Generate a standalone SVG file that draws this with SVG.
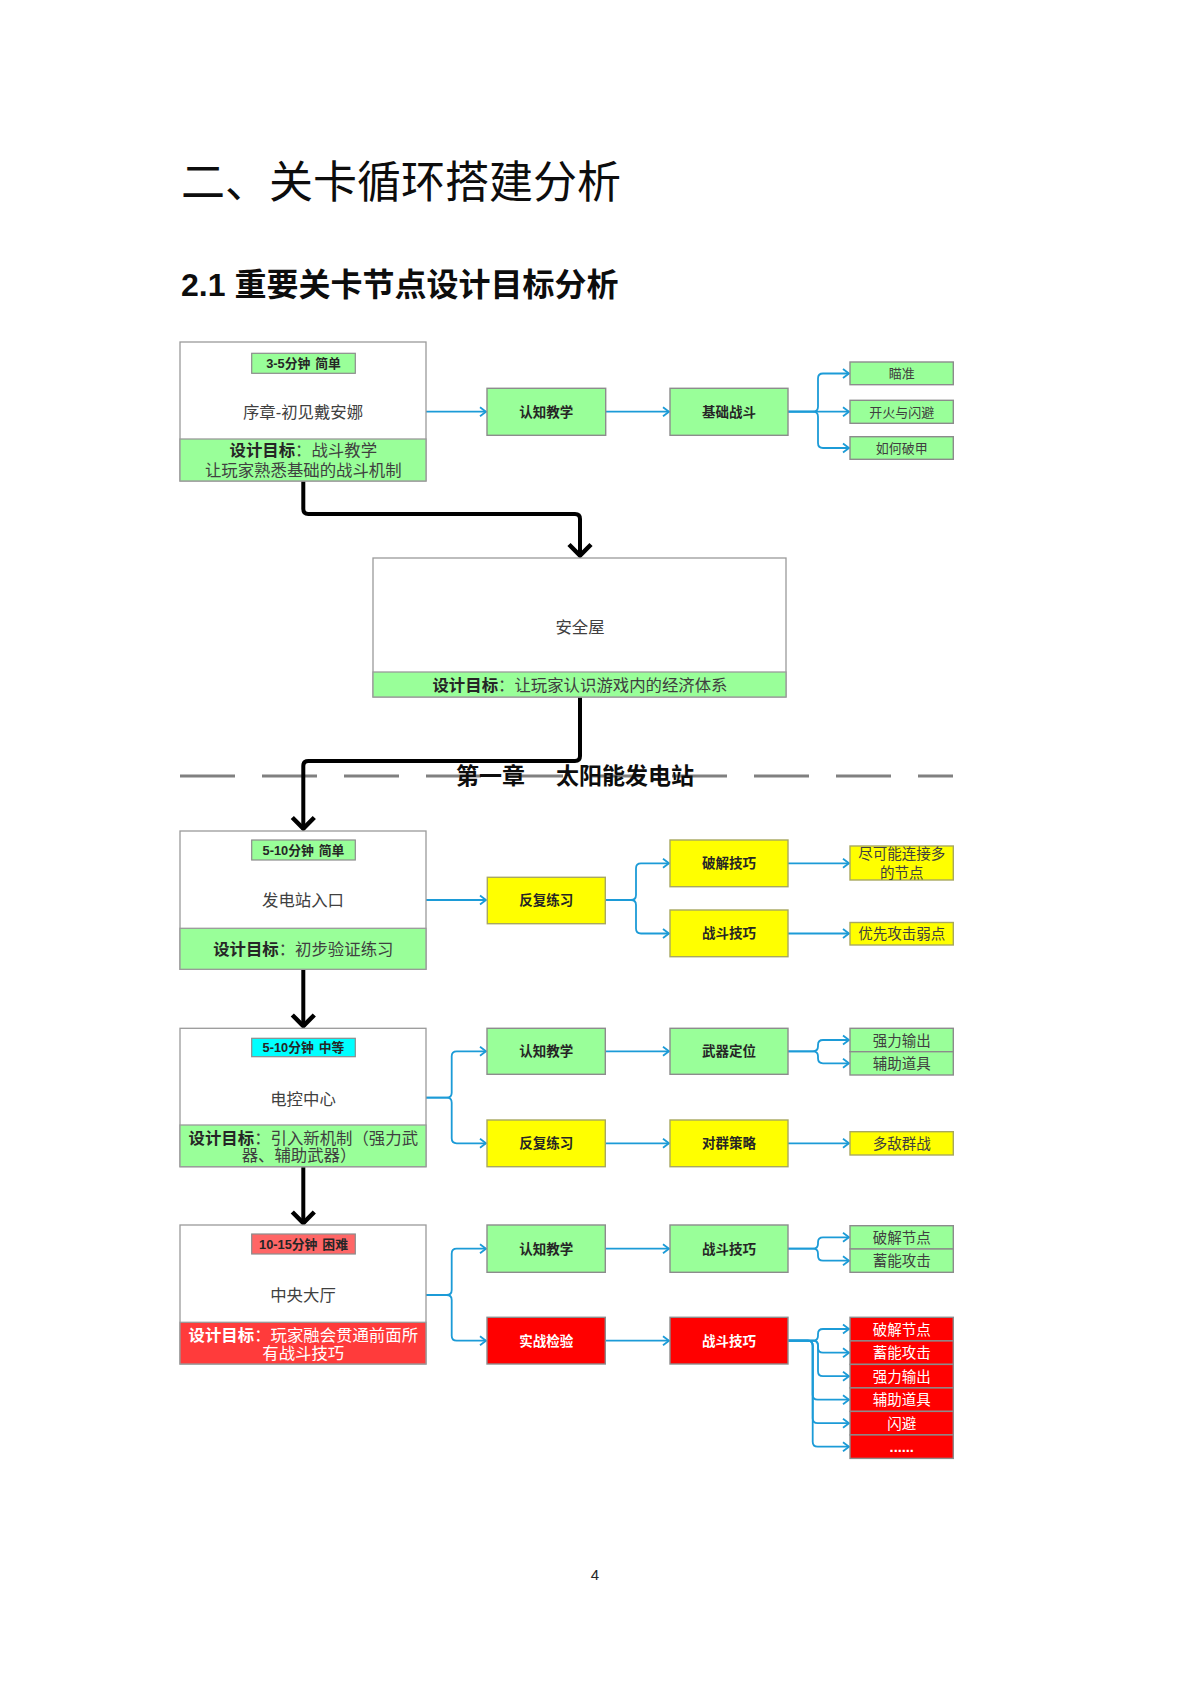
<svg xmlns="http://www.w3.org/2000/svg" width="1191" height="1684" viewBox="0 0 1191 1684">
<style>
text{font-family:"Liberation Sans","Noto Sans CJK SC",sans-serif}
.h1{font-family:"Noto Sans CJK SC",sans-serif;font-size:44px;fill:#0d0d0d}
.h2{font-size:32px;font-weight:bold;fill:#0d0d0d}
.chap{font-size:23px;font-weight:bold;fill:#0d0d0d}
.node{fill:#fff;stroke:#9a9a9a;stroke-width:1.3}
.band{fill:#99ff99;stroke:#9a9a9a;stroke-width:1.3}
.bandr{fill:#ff3b3b;stroke:#9a9a9a;stroke-width:1.3}
.g{fill:#99ff99;stroke:#8c8c8c;stroke-width:1.4}
.y{fill:#ffff00;stroke:#a8a860;stroke-width:1.4}
.r{fill:#ff0000;stroke:#8c8c8c;stroke-width:1.4}
.tagg{fill:#99ff99;stroke:#8c8c8c;stroke-width:1.2}
.tagc{fill:#00ffff;stroke:#8c8c8c;stroke-width:1.2}
.tagr{fill:#ff6666;stroke:#8c8c8c;stroke-width:1.2}
.tt{font-size:12.8px;font-weight:bold;fill:#262626;text-anchor:middle}
.nt{font-size:16.4px;fill:#404040;text-anchor:middle}
.gt{font-size:16.4px;fill:#404040;text-anchor:middle}
.gtw{font-size:16.4px;fill:#ffffff;text-anchor:middle}
.b{font-weight:bold;fill:#262626}
.bw{font-weight:bold;fill:#ffffff}
.at{font-size:13.5px;font-weight:bold;fill:#262626;text-anchor:middle}
.atw{font-size:13.5px;font-weight:bold;fill:#ffffff;text-anchor:middle}
.st{font-size:14.5px;fill:#404040;text-anchor:middle}
.st1{font-size:13px;fill:#404040;text-anchor:middle}
.stw{font-size:14.5px;fill:#ffffff;text-anchor:middle}
.blue{fill:none;stroke:#1c9bd7;stroke-width:1.8;marker-end:url(#ba)}
.blk{fill:none;stroke:#000;stroke-width:4;marker-end:url(#ka)}
</style>
<defs>
<marker id="ba" markerUnits="userSpaceOnUse" markerWidth="20" markerHeight="20" viewBox="-10 -10 20 20" refX="0" refY="0" orient="auto" overflow="visible">
<path d="M-6,-4.5 L0,0 L-6,4.5" fill="none" stroke="#1c9bd7" stroke-width="1.8"/>
</marker>
<marker id="ka" markerUnits="userSpaceOnUse" markerWidth="30" markerHeight="30" viewBox="-15 -15 30 30" refX="0" refY="0" orient="auto" overflow="visible">
<path d="M-12,-11 L-1,0 L-12,11" fill="none" stroke="#000" stroke-width="4.5" stroke-linejoin="miter"/>
</marker>
</defs>
<rect width="1191" height="1684" fill="#fff"/>

<text class="h1" x="181" y="198">二、关卡循环搭建分析</text>
<text class="h2" x="181" y="295.5">2.1 重要关卡节点设计目标分析</text>

<g id="chapter-divider">
<line x1="180" y1="776" x2="953" y2="776" stroke="#808080" stroke-width="3" stroke-dasharray="55 27"/>
<text class="chap" y="783.5"><tspan x="456">第一章</tspan><tspan x="556">太阳能发电站</tspan></text>
</g>

<g id="connectors">
<path class="blk" d="M303.3,481 V509 Q303.3,514 308.3,514 H575 Q580,514 580,519 V556.5"/>
<path class="blk" d="M580,697 V756 Q580,761 575,761 H308.3 Q303.3,761 303.3,766 V829.5"/>
<path class="blk" d="M303.3,969.3 V1027"/>
<path class="blk" d="M303.3,1166.7 V1224"/>
<!-- row 1 -->
<path class="blue" d="M426,411.7 H486"/>
<path class="blue" d="M606,411.7 H669"/>
<path class="blue" d="M788,411.7 H813 Q818,411.7 818,406.7 V378.5 Q818,373.5 823,373.5 H849"/>
<path class="blue" d="M788,411.7 H849"/>
<path class="blue" d="M788,411.7 H813 Q818,411.7 818,416.7 V443 Q818,448 823,448 H849"/>
<!-- row 2 -->
<path class="blue" d="M426,900 H486"/>
<path class="blue" d="M605,900 H631 Q636,900 636,895 V868.3 Q636,863.3 641,863.3 H669"/>
<path class="blue" d="M605,900 H631 Q636,900 636,905 V928.5 Q636,933.5 641,933.5 H669"/>
<path class="blue" d="M788,863.3 H849"/>
<path class="blue" d="M788,933.5 H849"/>
<!-- row 3 -->
<path class="blue" d="M426,1097.7 H446.7 Q451.7,1097.7 451.7,1092.7 V1056.3 Q451.7,1051.3 456.7,1051.3 H486"/>
<path class="blue" d="M426,1097.7 H446.7 Q451.7,1097.7 451.7,1102.7 V1138.3 Q451.7,1143.3 456.7,1143.3 H486"/>
<path class="blue" d="M605,1051.3 H669"/>
<path class="blue" d="M788,1051.3 H813 Q818,1051.3 818,1046.3 V1045 Q818,1040 823,1040 H849"/>
<path class="blue" d="M788,1051.3 H813 Q818,1051.3 818,1056.3 V1058.3 Q818,1063.3 823,1063.3 H849"/>
<path class="blue" d="M605,1143.3 H669"/>
<path class="blue" d="M788,1143.3 H849"/>
<!-- row 4 -->
<path class="blue" d="M426,1295 H446.7 Q451.7,1295 451.7,1290 V1253.7 Q451.7,1248.7 456.7,1248.7 H486"/>
<path class="blue" d="M426,1295 H446.7 Q451.7,1295 451.7,1300 V1335.7 Q451.7,1340.7 456.7,1340.7 H486"/>
<path class="blue" d="M605,1248.7 H669"/>
<path class="blue" d="M788,1248.7 H813 Q818,1248.7 818,1243.7 V1242.3 Q818,1237.3 823,1237.3 H849"/>
<path class="blue" d="M788,1248.7 H813 Q818,1248.7 818,1253.7 V1255.7 Q818,1260.7 823,1260.7 H849"/>
<path class="blue" d="M605,1340.7 H669"/>
<path class="blue" d="M788,1340.7 H813 Q818,1340.7 818,1335.7 V1334 Q818,1329 823,1329 H849"/>
<path class="blue" d="M788,1340.7 H813 Q818,1340.7 818,1345.7 V1347.7 Q818,1352.7 823,1352.7 H849"/>
<path class="blue" d="M788,1340.7 H813 Q818,1340.7 818,1345.7 V1371.2 Q818,1376.2 823,1376.2 H849"/>
<path class="blue" d="M788,1340.7 H807.7 Q812.7,1340.7 812.7,1345.7 V1394.7 Q812.7,1399.7 817.7,1399.7 H849"/>
<path class="blue" d="M788,1340.7 H807.7 Q812.7,1340.7 812.7,1345.7 V1418.2 Q812.7,1423.2 817.7,1423.2 H849"/>
<path class="blue" d="M788,1340.7 H807.7 Q812.7,1340.7 812.7,1345.7 V1441.7 Q812.7,1446.7 817.7,1446.7 H849"/>
</g>

<g id="node-prologue">
<rect class="node" x="180" y="342" width="246" height="139"/>
<rect class="band" x="180" y="439" width="246" height="42"/>
<rect class="tagg" x="251.7" y="353.3" width="103.6" height="20"/>
<text class="tt" x="303.5" y="368">3-5分钟<tspan dx="5">简单</tspan></text>
<text class="nt" x="303" y="418">序章-初见戴安娜</text>
<text class="gt" x="303.3" y="456.2"><tspan class="b">设计目标</tspan>：战斗教学</text>
<text class="gt" x="303.3" y="476.2">让玩家熟悉基础的战斗机制</text>
</g>

<g id="node-safehouse">
<rect class="node" x="373" y="558" width="413" height="139"/>
<rect class="band" x="373" y="672" width="413" height="25"/>
<text class="nt" x="580" y="633">安全屋</text>
<text class="gt" x="580" y="690.9"><tspan class="b">设计目标</tspan>：让玩家认识游戏内的经济体系</text>
</g>

<g id="node-entrance">
<rect class="node" x="180" y="831" width="246" height="138.3"/>
<rect class="band" x="180" y="928.3" width="246" height="41"/>
<rect class="tagg" x="251.7" y="840" width="103.6" height="20"/>
<text class="tt" x="303.5" y="854.6">5-10分钟<tspan dx="5">简单</tspan></text>
<text class="nt" x="303" y="906.2">发电站入口</text>
<text class="gt" x="303.3" y="954.5"><tspan class="b">设计目标</tspan>：初步验证练习</text>
</g>

<g id="node-control">
<rect class="node" x="180" y="1028.3" width="246" height="138.4"/>
<rect class="band" x="180" y="1125" width="246" height="41.7"/>
<rect class="tagc" x="251.7" y="1038.3" width="103.6" height="18.4"/>
<text class="tt" x="303.5" y="1052">5-10分钟<tspan dx="5">中等</tspan></text>
<text class="nt" x="303" y="1104.5">电控中心</text>
<text class="gt" x="303.3" y="1143.5"><tspan class="b">设计目标</tspan>：引入新机制（强力武</text>
<text class="gt" x="299" y="1161">器、辅助武器）</text>
</g>

<g id="node-hall">
<rect class="node" x="180" y="1225" width="246" height="139"/>
<rect class="bandr" x="180" y="1322.3" width="246" height="41.7"/>
<rect class="tagr" x="251.7" y="1234" width="103.6" height="20"/>
<text class="tt" x="303.5" y="1248.6">10-15分钟<tspan dx="5">困难</tspan></text>
<text class="nt" x="303" y="1301.2">中央大厅</text>
<text class="gtw" x="303.3" y="1341.2"><tspan class="bw">设计目标</tspan>：玩家融会贯通前面所</text>
<text class="gtw" x="303.3" y="1358.9">有战斗技巧</text>
</g>

<g id="row1">
<g id="a1-learn"><rect class="g" x="487" y="388.3" width="118.7" height="47"/><text class="at" x="546.3" y="416.6">认知教学</text></g>
<g id="a1-combat"><rect class="g" x="670" y="388.3" width="118" height="47"/><text class="at" x="729" y="416.6">基础战斗</text></g>
<g id="s1-aim"><rect class="g" x="850" y="362" width="103.3" height="22.7"/><text class="st1" x="901.7" y="378.2">瞄准</text></g>
<g id="s1-fire"><rect class="g" x="850" y="400.3" width="103.3" height="23"/><text class="st1" x="901.7" y="416.7">开火与闪避</text></g>
<g id="s1-armor"><rect class="g" x="850" y="436.7" width="103.3" height="22.6"/><text class="st1" x="901.7" y="452.9">如何破甲</text></g>
</g>

<g id="row2">
<g id="a2-repeat"><rect class="y" x="487.3" y="877.3" width="118" height="46.4"/><text class="at" x="546.3" y="905.4">反复练习</text></g>
<g id="a2-crack"><rect class="y" x="670" y="840" width="118" height="46.7"/><text class="at" x="729" y="868.2">破解技巧</text></g>
<g id="a2-combat"><rect class="y" x="670" y="910" width="118" height="46.7"/><text class="at" x="729" y="938.2">战斗技巧</text></g>
<g id="s2-connect"><rect class="y" x="850" y="846" width="103.3" height="34"/><text class="st" x="901.7" y="858.8">尽可能连接多</text><text class="st" x="901.7" y="878.2">的节点</text></g>
<g id="s2-weak"><rect class="y" x="850" y="922.5" width="103.3" height="22.5"/><text class="st" x="901.7" y="939.2">优先攻击弱点</text></g>
</g>

<g id="row3">
<g id="a3-learn"><rect class="g" x="487" y="1028.3" width="118.3" height="46"/><text class="at" x="546.3" y="1056.2">认知教学</text></g>
<g id="a3-weapon"><rect class="g" x="670" y="1028.3" width="118" height="46"/><text class="at" x="729" y="1056.2">武器定位</text></g>
<g id="s3-power"><rect class="g" x="850" y="1028.3" width="103.3" height="23.4"/><text class="st" x="901.7" y="1045.5">强力输出</text></g>
<g id="s3-aux"><rect class="g" x="850" y="1051.7" width="103.3" height="23.3"/><text class="st" x="901.7" y="1068.8">辅助道具</text></g>
<g id="a3-repeat"><rect class="y" x="487" y="1120" width="118.3" height="46.7"/><text class="at" x="546.3" y="1148.2">反复练习</text></g>
<g id="a3-group"><rect class="y" x="670" y="1120" width="118" height="46.7"/><text class="at" x="729" y="1148.2">对群策略</text></g>
<g id="s3-multi"><rect class="y" x="850" y="1131.7" width="103.3" height="23.3"/><text class="st" x="901.7" y="1148.8">多敌群战</text></g>
</g>

<g id="row4">
<g id="a4-learn"><rect class="g" x="487" y="1225" width="118.3" height="47.3"/><text class="at" x="546.3" y="1253.6">认知教学</text></g>
<g id="a4-combat"><rect class="g" x="670" y="1225" width="118" height="47.3"/><text class="at" x="729" y="1253.6">战斗技巧</text></g>
<g id="s4-crack"><rect class="g" x="850" y="1225.7" width="103.3" height="23.3"/><text class="st" x="901.7" y="1242.8">破解节点</text></g>
<g id="s4-charge"><rect class="g" x="850" y="1249" width="103.3" height="23.3"/><text class="st" x="901.7" y="1266.2">蓄能攻击</text></g>
<g id="a4-test"><rect class="r" x="487" y="1317.3" width="118.3" height="46.7"/><text class="atw" x="546.3" y="1345.6">实战检验</text></g>
<g id="a4-combat2"><rect class="r" x="670" y="1317.3" width="118" height="46.7"/><text class="atw" x="729" y="1345.6">战斗技巧</text></g>
<g id="r4-crack"><rect class="r" x="850" y="1317.3" width="103.3" height="23.6"/><text class="stw" x="901.7" y="1334.6">破解节点</text></g>
<g id="r4-charge"><rect class="r" x="850" y="1340.9" width="103.3" height="23.5"/><text class="stw" x="901.7" y="1358.2">蓄能攻击</text></g>
<g id="r4-power"><rect class="r" x="850" y="1364.4" width="103.3" height="23.5"/><text class="stw" x="901.7" y="1381.7">强力输出</text></g>
<g id="r4-aux"><rect class="r" x="850" y="1387.9" width="103.3" height="23.5"/><text class="stw" x="901.7" y="1405.2">辅助道具</text></g>
<g id="r4-dodge"><rect class="r" x="850" y="1411.4" width="103.3" height="23.5"/><text class="stw" x="901.7" y="1428.7">闪避</text></g>
<g id="r4-more"><rect class="r" x="850" y="1434.9" width="103.3" height="23.5"/><text class="stw" x="901.7" y="1451.5" font-weight="bold">......</text></g>
</g>

<text x="595" y="1580" font-size="15" fill="#262626" text-anchor="middle">4</text>
</svg>
